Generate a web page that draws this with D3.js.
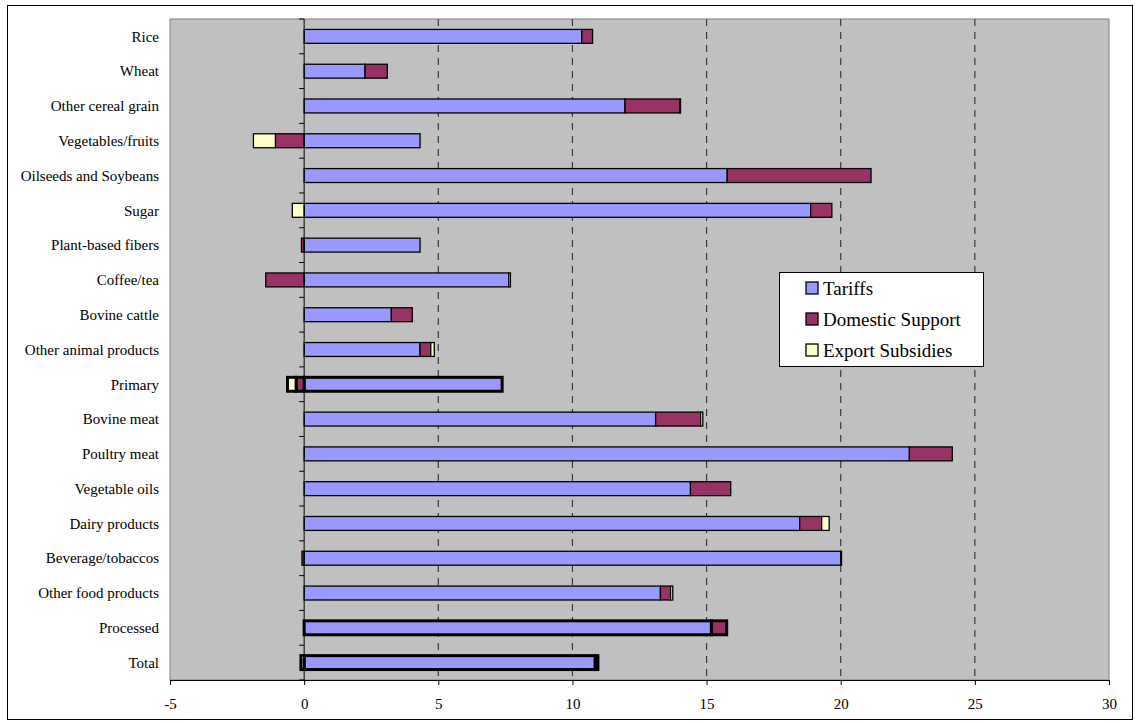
<!DOCTYPE html>
<html>
<head>
<meta charset="utf-8">
<script src="https://cdn.jsdelivr.net/npm/d3@7"></script>
<style>
  html, body { margin: 0; padding: 0; background: #fff; }
  svg { display: block; }
  text { font-family: "Liberation Serif", "Times New Roman", serif; fill: #000; }
</style>
</head>
<body>
<svg id="chart" width="1135" height="723"></svg>
<script>
// Categories, top to bottom
const categories = [
  "Rice", "Wheat", "Other cereal grain", "Vegetables/fruits", "Oilseeds and Soybeans",
  "Sugar", "Plant-based fibers", "Coffee/tea", "Bovine cattle", "Other animal products",
  "Primary", "Bovine meat", "Poultry meat", "Vegetable oils", "Dairy products",
  "Beverage/tobaccos", "Other food products", "Processed", "Total"
];

// Contribution of each policy instrument
const tariffs = [
  10.35, 2.27, 11.96, 4.32, 15.77,
  18.88, 4.32, 7.63, 3.25, 4.32,
  7.38, 13.1, 22.56, 14.4, 18.47,
  20.0, 13.28, 15.18, 10.85
];
const domesticSupport = [
  0.4, 0.83, 2.05, -1.07, 5.36,
  0.79, -0.1, -1.43, 0.78, 0.4,
  -0.3, 1.68, 1.6, 1.5, 0.82,
  -0.08, 0.38, 0.57, 0.1
];
const exportSubsidies = [
  0, 0, 0.02, -0.82, 0,
  -0.44, 0, 0.06, 0, 0.13,
  -0.32, 0.08, 0, 0, 0.28,
  0.03, 0.08, 0, -0.12
];

const seriesNames = ["Tariffs", "Domestic Support", "Export Subsidies"];
const seriesColors = ["#9999FF", "#993366", "#FFFFCC"];
const xTicks = [-5, 0, 5, 10, 15, 20, 25, 30];
const aggregates = ["Primary", "Processed", "Total"];

const svg = d3.select("#chart");

// Outer frame
svg.append("rect")
  .attr("x", 7.5).attr("y", 5.5).attr("width", 1125).attr("height", 714)
  .attr("fill", "#fff").attr("stroke", "#000").attr("stroke-width", 1);

const plot = { left: 170, right: 1109, top: 19, bottom: 680 };

const x = d3.scaleLinear().domain([-5, 30]).range([plot.left, plot.right]);
const y = d3.scaleBand().domain(categories)
  .range([plot.top, plot.bottom]).paddingInner(0.6).paddingOuter(0.3);

// Plot area background
svg.append("rect")
  .attr("x", plot.left).attr("y", plot.top)
  .attr("width", plot.right - plot.left).attr("height", plot.bottom - plot.top)
  .attr("fill", "#C0C0C0").attr("stroke", "#808080").attr("stroke-width", 1);

// Dashed vertical gridlines
svg.append("g").selectAll("line")
  .data(xTicks.filter(t => t > 0 && t < 30))
  .join("line")
  .attr("x1", d => x(d)).attr("x2", d => x(d))
  .attr("y1", plot.top).attr("y2", plot.bottom)
  .attr("stroke", "#3a3a3a").attr("stroke-width", 1.2)
  .attr("stroke-dasharray", "7,6");

// Stacked bars (positives to the right of zero, negatives to the left)
const rows = categories.map((c, i) => ({
  category: c,
  "Tariffs": tariffs[i],
  "Domestic Support": domesticSupport[i],
  "Export Subsidies": exportSubsidies[i]
}));
const stack = d3.stack().keys(seriesNames).offset(d3.stackOffsetDiverging);
const stacked = stack(rows);

const barsG = svg.append("g");
stacked.forEach((layer, si) => {
  barsG.append("g").selectAll("rect")
    .data(layer.filter(d => d[1] !== d[0]))
    .join("rect")
    .attr("x", d => x(Math.min(d[0], d[1])))
    .attr("width", d => Math.abs(x(d[1]) - x(d[0])))
    .attr("y", d => y(d.data.category))
    .attr("height", y.bandwidth())
    .attr("fill", seriesColors[si])
    .attr("stroke", "#000")
    .attr("stroke-width", d => aggregates.includes(d.data.category) ? 3 : 1.3);
});

// Zero line with category ticks
svg.append("line")
  .attr("x1", x(0)).attr("x2", x(0))
  .attr("y1", plot.top).attr("y2", plot.bottom)
  .attr("stroke", "#000").attr("stroke-width", 1);
const boundaries = d3.range(0, categories.length + 1).map(i => plot.top + i * y.step());
svg.append("g").selectAll("line")
  .data(boundaries)
  .join("line")
  .attr("x1", x(0) - 5).attr("x2", x(0))
  .attr("y1", d => d).attr("y2", d => d)
  .attr("stroke", "#000").attr("stroke-width", 1);

// Category labels
svg.append("g").selectAll("text")
  .data(categories)
  .join("text")
  .attr("x", 159)
  .attr("y", d => y(d) + y.bandwidth() / 2)
  .attr("dy", "0.35em")
  .attr("text-anchor", "end")
  .style("font-size", "15px")
  .text(d => d);

// Horizontal axis
const xAxis = d3.axisBottom(x).tickValues(xTicks).tickSize(5).tickPadding(13)
  .tickFormat(d => String(d));
const axisG = svg.append("g")
  .attr("transform", `translate(0,${plot.bottom})`)
  .call(xAxis);
axisG.select(".domain").attr("stroke", "#000").attr("stroke-width", 1);
axisG.selectAll(".tick line").attr("stroke", "#000");
axisG.selectAll(".tick text")
  .style("font-family", '"Liberation Serif", "Times New Roman", serif')
  .style("font-size", "15px").attr("fill", "#000");

// Legend
const legend = svg.append("g").attr("transform", "translate(779,272)");
legend.append("rect")
  .attr("x", 0.5).attr("y", 0.5).attr("width", 204).attr("height", 94)
  .attr("fill", "#fff").attr("stroke", "#000").attr("stroke-width", 1);
seriesNames.forEach((name, i) => {
  const cy = 16 + i * 31;
  legend.append("rect")
    .attr("x", 27).attr("y", cy - 6).attr("width", 12).attr("height", 12)
    .attr("fill", seriesColors[i]).attr("stroke", "#000").attr("stroke-width", 1.3);
  legend.append("text")
    .attr("x", 44).attr("y", cy).attr("dy", "0.35em")
    .style("font-size", "19px")
    .text(name);
});
</script>
</body>
</html>
